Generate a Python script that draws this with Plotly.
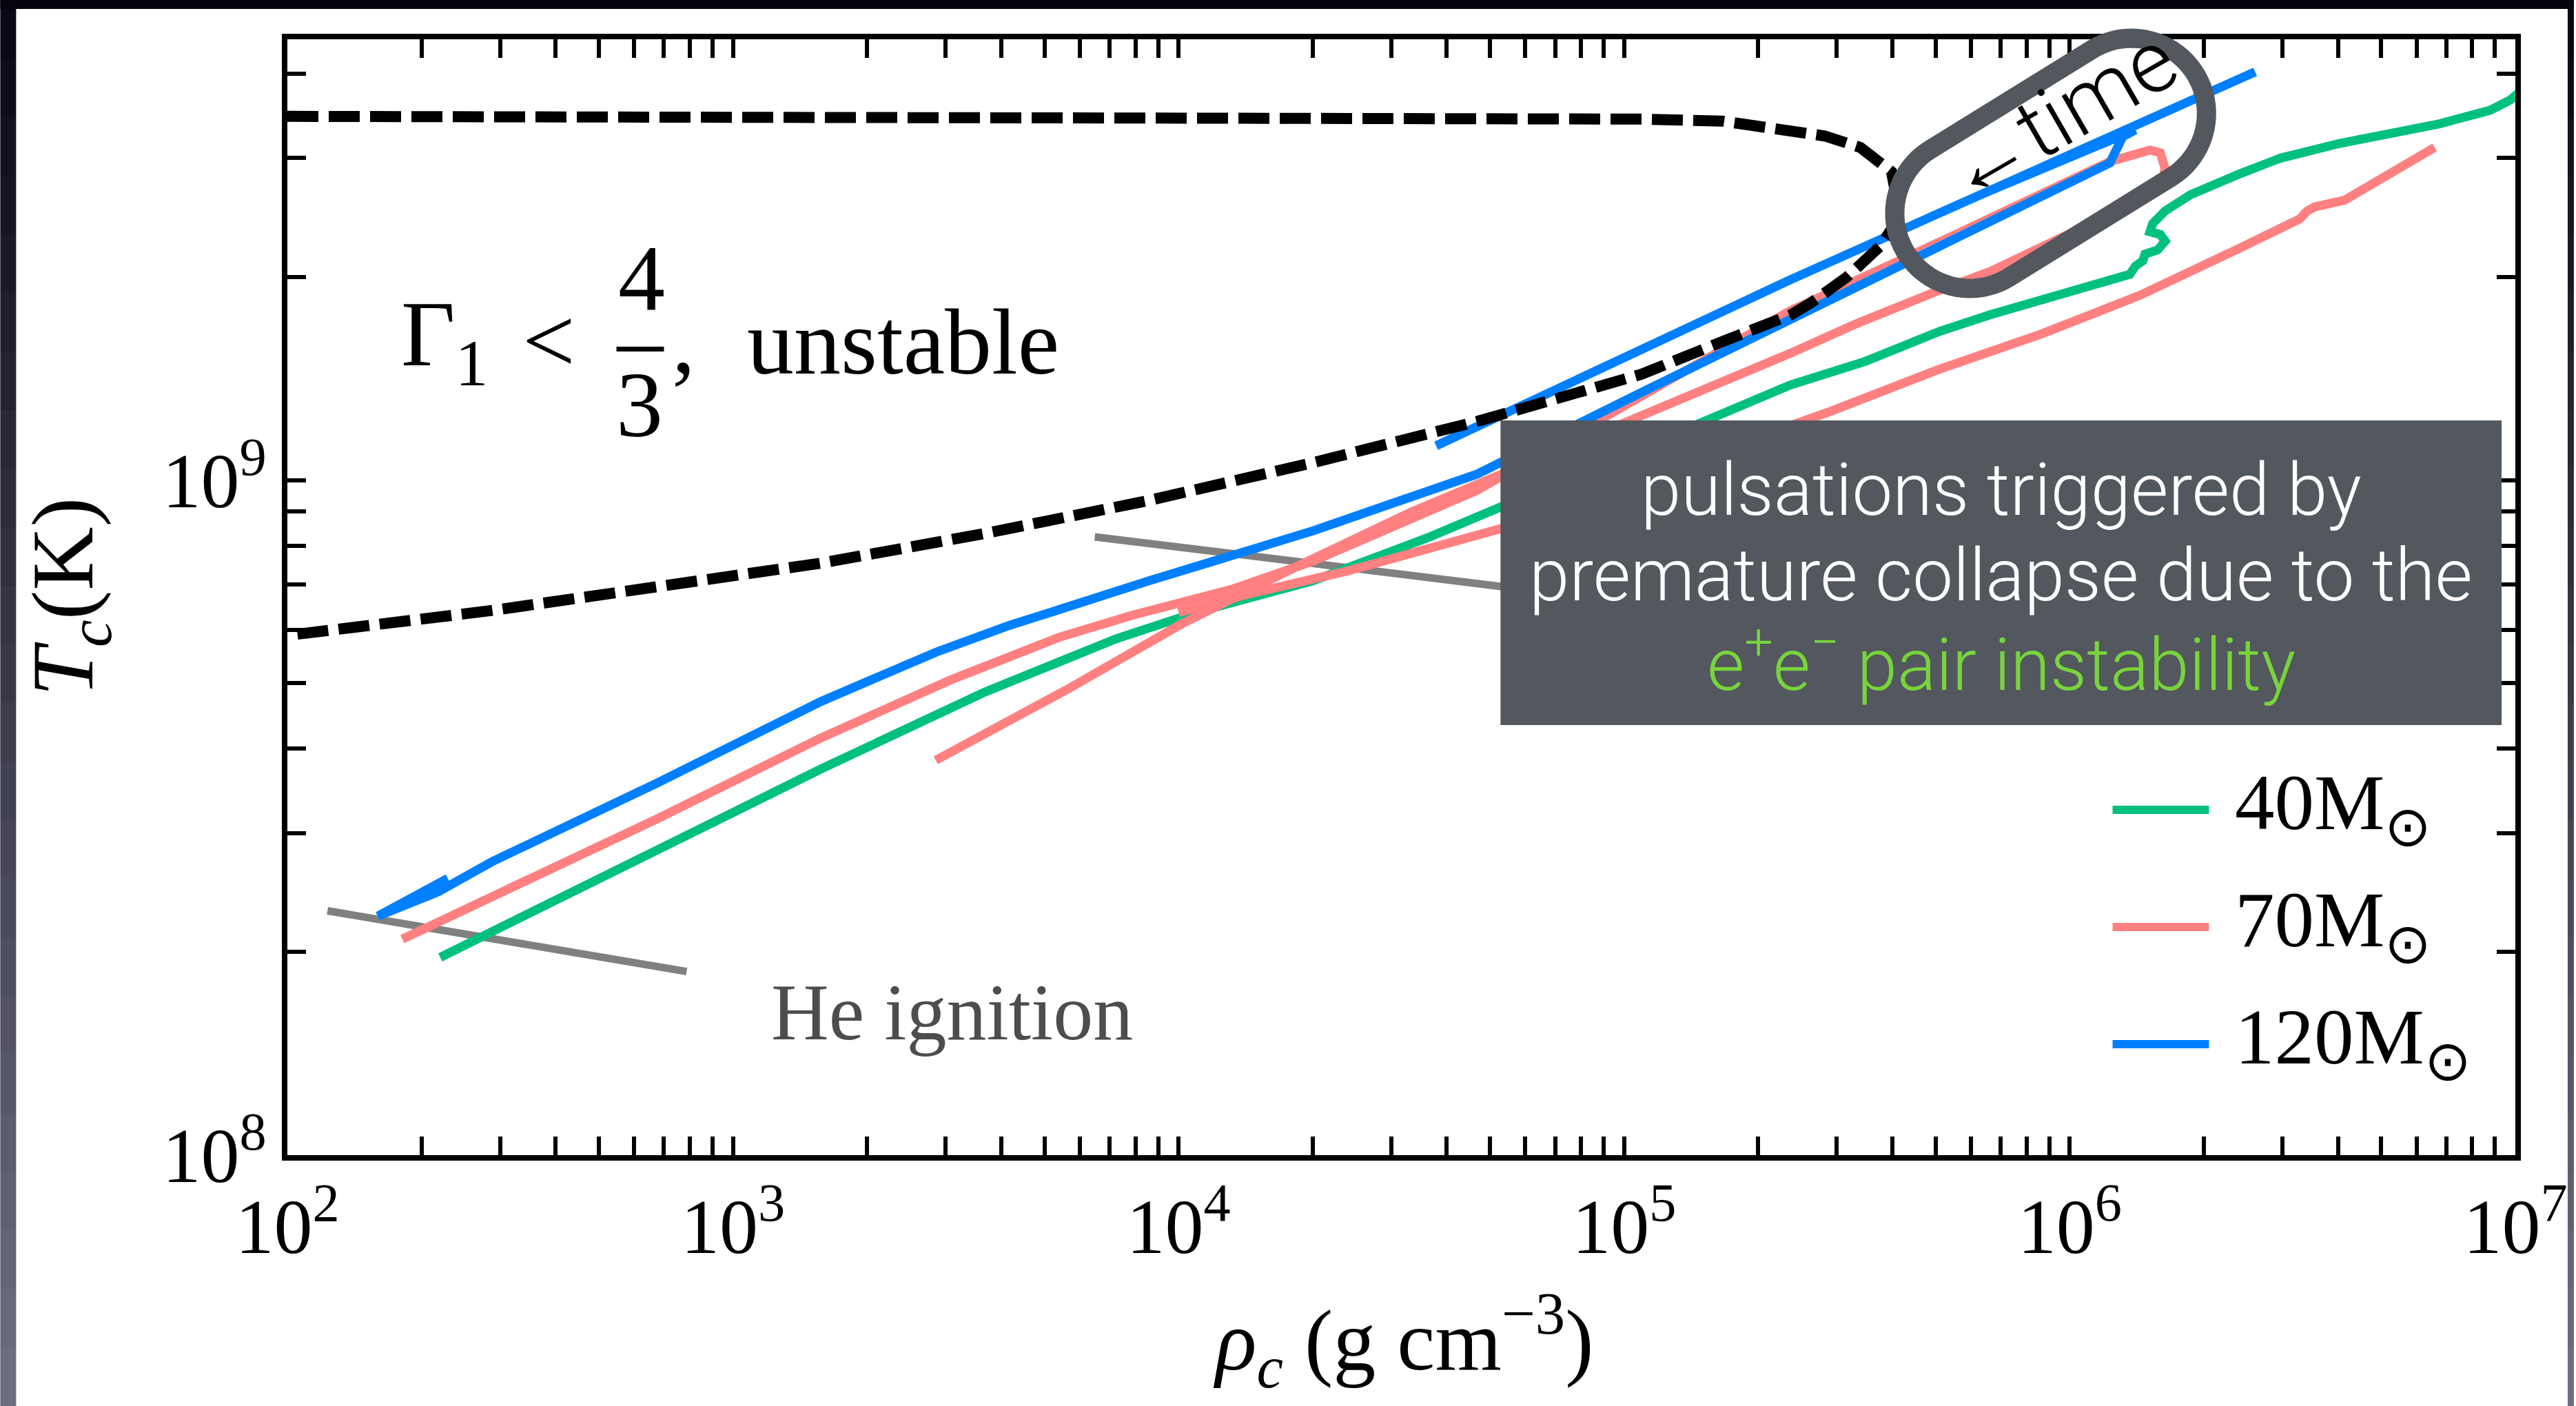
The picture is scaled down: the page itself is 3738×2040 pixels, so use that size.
import numpy as np
import plotly.graph_objects as go

# ---------------------------------------------------------------
# Central density / temperature tracks, stored as log10 values
# (log10 rho_c [g cm^-3], log10 T_c [K]); None breaks a track.
# ---------------------------------------------------------------
track40_lrho = [2.343, 2.460, 2.829, 3.197, 3.565, 3.860, 4.044, 4.302, 4.560, 4.722,
                5.373, 5.541, 5.653, 5.710, 5.821, 5.934, 6.045, 6.135, 6.147, 6.164,
                6.169, 6.197, 6.214, 6.203, 6.180, 6.186, 6.214, 6.271, 6.382, 6.472,
                6.606, 6.719, 6.830, 6.943, 6.988, 7.010]
track40_lT = [8.293, 8.331, 8.451, 8.572, 8.686, 8.765, 8.805, 8.851, 8.915, 8.960,
              9.141, 9.176, 9.204, 9.221, 9.245, 9.266, 9.286, 9.305, 9.317, 9.325,
              9.335, 9.341, 9.354, 9.364, 9.368, 9.380, 9.399, 9.423, 9.454, 9.477,
              9.499, 9.513, 9.528, 9.548, 9.563, 9.575]

track70_lrho = [2.258, 2.460, 2.829, 3.197, 3.492, 3.731, 3.897, 4.118, 4.302, 4.670,
                5.373, 5.731, 6.090, 6.180, 6.203, 6.214, 6.208, 6.158, 6.045, 5.934,
                5.821, 5.710, 5.518, 5.373, 4.722, 4.523, 4.265, 4.007, 3.750, 3.455,
                None,
                4.0, 4.155, 4.376, 4.722, 5.463, 5.710, 5.934, 6.158, 6.382, 6.516,
                6.533, 6.550, 6.617, 6.819]
track70_lT = [8.320, 8.382, 8.498, 8.618, 8.705, 8.767, 8.800, 8.838, 8.880, 8.985,
              9.251, 9.360, 9.472, 9.489, 9.485, 9.462, 9.442, 9.415, 9.380, 9.344,
              9.309, 9.282, 9.231, 9.188, 9.007, 8.953, 8.872, 8.787, 8.690, 8.585,
              None,
              8.804, 8.831, 8.865, 8.928, 9.102, 9.165, 9.216, 9.274, 9.344, 9.387,
              9.399, 9.405, 9.415, 9.493]

track120_lrho = [2.36, 2.203, 2.338, 2.460, 2.829, 3.197, 3.455, 3.621, 3.750, 3.934,
                 4.302, 4.670, 5.039, 5.374, 5.731, 6.090, 6.107, 6.119, 6.147, 5.800,
                 5.373, 4.950, 4.578, 4.950, 5.373, 5.800, 6.147, 6.416]
track120_lT = [8.41, 8.354, 8.390, 8.435, 8.551, 8.672, 8.745, 8.785, 8.812, 8.851,
               8.925, 9.009, 9.130, 9.240, 9.354, 9.470, 9.493, 9.509, 9.519, 9.423,
               9.297, 9.166, 9.051, 9.166, 9.297, 9.423, 9.526, 9.605]

# Gamma_1 = 4/3 boundary (closed on the right, open towards low density)
gamma_lrho = [2.00, 2.50, 3.00, 3.50, 4.00, 4.50, 4.80, 5.04, 5.22, 5.37, 5.45,
              5.53, 5.57, 5.60, 5.612, 5.60, 5.575, 5.55, 5.50, 5.42, 5.374, 5.223,
              5.039, 4.670, 4.302, 3.934, 3.565, 3.197, 2.829, 2.460, 2.00]
gamma_lT = [9.539, 9.539, 9.539, 9.539, 9.538, 9.537, 9.536, 9.535, 9.532, 9.52, 9.51,
            9.493, 9.475, 9.457, 9.415, 9.372, 9.347, 9.333, 9.301, 9.263, 9.245, 9.206,
            9.157, 9.087, 9.026, 8.970, 8.921, 8.877, 8.841, 8.807, 8.770]

# ignition lines
he_ign_lrho = [2.09, 2.896]
he_ign_lT = [8.362, 8.272]
c_ign_lrho = [3.812, 4.718, 4.95]
c_ign_lT = [8.916, 8.843, 8.82]

series_names = ["40M<sub>⊙</sub>", "70M<sub>⊙</sub>", "120M<sub>⊙</sub>"]
series_colors = ["#00C080", "#FF8080", "#0080FF"]
series_lrho = [track40_lrho, track70_lrho, track120_lrho]
series_lT = [track40_lT, track70_lT, track120_lT]

x_decades = [2, 3, 4, 5, 6, 7]
y_decades = [8, 9]
x_ticktext = ["10<sup>%d</sup>" % d for d in x_decades]
y_ticktext = ["10<sup>%d</sup>" % d for d in y_decades]
y_top = 4.5e9


def pow10(seq):
    return [None if v is None else 10.0 ** v for v in seq]


W, H = 3738, 2040
L, R, T, B = 417, 3653, 57, 1676


def px(x):
    return (x - L) / (R - L)


def py(y):
    return (B - y) / (B - T)


SERIF = "Liberation Serif"
SANS = "Roboto"

fig = go.Figure()

fig.add_trace(go.Scatter(x=pow10(he_ign_lrho), y=pow10(he_ign_lT), mode="lines",
                         line=dict(color="#808080", width=11), hoverinfo="skip"))
fig.add_trace(go.Scatter(x=pow10(c_ign_lrho), y=pow10(c_ign_lT), mode="lines",
                         line=dict(color="#808080", width=11), hoverinfo="skip"))

for name, col, lr, lt in zip(series_names, series_colors, series_lrho, series_lT):
    fig.add_trace(go.Scatter(x=pow10(lr), y=pow10(lt), mode="lines", name=name,
                             line=dict(color=col, width=13), connectgaps=False))

fig.add_trace(go.Scatter(x=pow10(gamma_lrho), y=pow10(gamma_lT), mode="lines",
                         line=dict(color="black", width=16, dash="45px,15px"),
                         hoverinfo="skip"))

minor_x = [k * 10.0 ** d for d in range(2, 7) for k in range(2, 10)]
minor_y = [k * 10.0 ** d for d in range(8, 10) for k in range(2, 10)]

axis_common = dict(type="log", showline=True, linewidth=8, linecolor="black",
                   mirror="ticks", ticks="inside", ticklen=27, tickwidth=6,
                   tickcolor="black", showgrid=False, zeroline=False,
                   tickfont=dict(family=SERIF, size=112, color="black"))

fig.update_xaxes(range=[2, 7], tickvals=[10.0 ** d for d in x_decades],
                 ticktext=x_ticktext,
                 minor=dict(tickmode="array", tickvals=minor_x, ticks="inside",
                            ticklen=27, tickwidth=6, tickcolor="black", showgrid=False),
                 **axis_common)
fig.update_yaxes(range=[8, np.log10(y_top)], tickvals=[10.0 ** d for d in y_decades],
                 ticktext=y_ticktext,
                 minor=dict(tickmode="array", tickvals=minor_y, ticks="inside",
                            ticklen=27, tickwidth=6, tickcolor="black", showgrid=False),
                 **axis_common)

shapes = []

# dark frame around the page, shaded from top to bottom
top_rgb = np.array([6, 6, 20])
bot_rgb = np.array([112, 112, 132])
nb = 24
for i in range(nb):
    y0 = H * i / nb
    y1 = H * (i + 1) / nb
    c = top_rgb + (bot_rgb - top_rgb) * (i + 0.5) / nb
    colr = "rgb(%d,%d,%d)" % tuple(c.astype(int))
    for xa, xb in [(0, 23), (3729, W)]:
        shapes.append(dict(type="rect", xref="paper", yref="paper", layer="below",
                           x0=px(xa), x1=px(xb), y0=py(y1), y1=py(y0),
                           fillcolor=colr, line=dict(width=0)))
shapes.append(dict(type="rect", xref="paper", yref="paper", layer="below",
                   x0=px(0), x1=px(W), y0=py(13), y1=py(0),
                   fillcolor="rgb(5,5,16)", line=dict(width=0)))

# dark call-out box
shapes.append(dict(type="rect", xref="paper", yref="paper", layer="above",
                   x0=px(2179), x1=px(3633), y0=py(1052), y1=py(610),
                   fillcolor="#53575E", line=dict(width=0)))

# rounded capsule around the "time" label
cx, cy, phi, half_len, rad = 2978.0, 237.0, np.radians(31.7), 138.0, 109.0
u = np.array([np.cos(phi), -np.sin(phi)])
n = np.array([np.sin(phi), np.cos(phi)])
pts = []
for th in np.linspace(-np.pi / 2, np.pi / 2, 40):
    pts.append(np.array([cx, cy]) + half_len * u + rad * (np.cos(th) * u + np.sin(th) * n))
for th in np.linspace(np.pi / 2, 3 * np.pi / 2, 40):
    pts.append(np.array([cx, cy]) - half_len * u + rad * (np.cos(th) * u + np.sin(th) * n))
path = "M " + " L ".join("%.5f,%.5f" % (px(p[0]), py(p[1])) for p in pts) + " Z"
shapes.append(dict(type="path", xref="paper", yref="paper", layer="above", path=path,
                   line=dict(color="#53575E", width=28), fillcolor="rgba(0,0,0,0)"))

# fraction bar of 4/3
shapes.append(dict(type="line", xref="paper", yref="paper", layer="above",
                   x0=px(895), x1=px(964), y0=py(506.5), y1=py(506.5),
                   line=dict(color="black", width=7)))

# legend samples
legend_y = [1175, 1345, 1515]
for col, ly in zip(series_colors, legend_y):
    shapes.append(dict(type="line", xref="paper", yref="paper", layer="above",
                       x0=px(3068), x1=px(3208), y0=py(ly), y1=py(ly),
                       line=dict(color=col, width=12)))

annotations = []


def note(text, x, y, size, family=SERIF, color="black", xanchor="center",
         yanchor="middle", angle=0, weight=None):
    f = dict(family=family, size=size, color=color)
    if weight is not None:
        f["weight"] = weight
    annotations.append(dict(text=text, x=px(x), y=py(y), xref="paper", yref="paper",
                            xanchor=xanchor, yanchor=yanchor, showarrow=False,
                            textangle=angle, font=f))


# legend labels
for name, ly in zip(series_names, legend_y):
    note(name, 3244, ly - 3, 115, xanchor="left")

# box text
note("pulsations triggered by", 2906, 712, 105, family=SANS, color="white", weight=300)
note("premature collapse due to the", 2906, 835, 105, family=SANS, color="white", weight=300)
note("e<sup>+</sup>e<sup>−</sup> pair instability", 2906, 958, 105, family=SANS,
     color="#78D43C", weight=300)

# time arrow label
note("←time", 2990, 168, 125, family=SANS, angle=-30, weight=300)

# instability criterion
note("Γ<sub>1</sub>", 580, 494, 136, xanchor="left")
note("<", 797, 494, 136)
note("4", 931, 404, 136)
note("3", 928, 587, 136)
note(",", 993, 494, 136)
note("unstable", 1083, 496, 136, xanchor="left")

# ignition label
note("He ignition", 1118, 1469, 116, color="#4D4D4D", xanchor="left")

# axis titles
note("<i>ρ</i><sub><i>c</i></sub> (g cm<sup>−3</sup>)", 2038, 1945, 124)
note("<i>T</i><sub><i>c</i></sub>(K)", 100, 866, 128, angle=-90)

fig.update_layout(width=W, height=H, autosize=False,
                  margin=dict(l=L, r=W - R, t=T, b=H - B, pad=0),
                  paper_bgcolor="white", plot_bgcolor="white",
                  showlegend=False, shapes=shapes, annotations=annotations)

fig.write_html("out.html")
